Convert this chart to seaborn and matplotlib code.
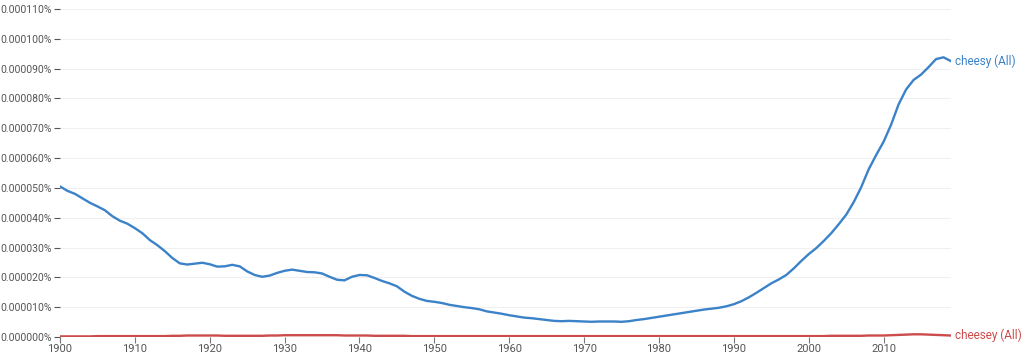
import numpy as np
import pandas as pd
import seaborn as sns
import matplotlib.pyplot as plt
from matplotlib.ticker import FuncFormatter

# values in units of 0.00001 %
years = list(range(1900, 2020))

cheesy = [
    5.05, 4.90, 4.80, 4.65, 4.50, 4.38, 4.25, 4.05, 3.90, 3.80,   # 1900s
    3.65, 3.48, 3.25, 3.08, 2.88, 2.65, 2.47, 2.43, 2.46, 2.49,   # 1910s
    2.44, 2.36, 2.37, 2.42, 2.37, 2.20, 2.08, 2.02, 2.06, 2.15,   # 1920s
    2.22, 2.26, 2.22, 2.18, 2.17, 2.13, 2.02, 1.92, 1.90, 2.02,   # 1930s
    2.08, 2.07, 1.98, 1.88, 1.80, 1.70, 1.52, 1.38, 1.28, 1.21,   # 1940s
    1.18, 1.14, 1.08, 1.04, 1.00, 0.97, 0.93, 0.86, 0.82, 0.78,   # 1950s
    0.73, 0.69, 0.65, 0.63, 0.60, 0.57, 0.54, 0.53, 0.54, 0.53,   # 1960s
    0.52, 0.51, 0.52, 0.52, 0.52, 0.51, 0.53, 0.57, 0.60, 0.64,   # 1970s
    0.68, 0.72, 0.76, 0.80, 0.84, 0.88, 0.92, 0.95, 0.98, 1.03,   # 1980s
    1.10, 1.20, 1.33, 1.48, 1.64, 1.80, 1.93, 2.08, 2.30, 2.55,   # 1990s
    2.78, 2.98, 3.22, 3.48, 3.78, 4.10, 4.52, 5.02, 5.62, 6.10,   # 2000s
    6.55, 7.12, 7.80, 8.30, 8.62, 8.80, 9.05, 9.32, 9.38, 9.25,   # 2010s
]

cheesey = [
    0.02, 0.02, 0.02, 0.02, 0.02, 0.03, 0.03, 0.03, 0.03, 0.03,
    0.03, 0.03, 0.03, 0.03, 0.03, 0.04, 0.04, 0.05, 0.05, 0.05,
    0.05, 0.05, 0.04, 0.04, 0.04, 0.04, 0.04, 0.04, 0.05, 0.05,
    0.06, 0.06, 0.06, 0.06, 0.06, 0.06, 0.06, 0.06, 0.05, 0.05,
    0.05, 0.05, 0.04, 0.04, 0.04, 0.04, 0.04, 0.03, 0.03, 0.03,
    0.03, 0.03, 0.03, 0.03, 0.03, 0.03, 0.03, 0.03, 0.03, 0.03,
    0.03, 0.03, 0.03, 0.03, 0.03, 0.03, 0.03, 0.03, 0.03, 0.03,
    0.03, 0.03, 0.03, 0.03, 0.03, 0.03, 0.03, 0.03, 0.03, 0.03,
    0.03, 0.03, 0.03, 0.03, 0.03, 0.03, 0.03, 0.03, 0.03, 0.03,
    0.03, 0.03, 0.03, 0.03, 0.03, 0.03, 0.03, 0.03, 0.03, 0.03,
    0.03, 0.03, 0.03, 0.04, 0.04, 0.04, 0.04, 0.04, 0.05, 0.05,
    0.05, 0.06, 0.07, 0.08, 0.09, 0.09, 0.08, 0.07, 0.06, 0.05,
]

labels = ['cheesy (All)', 'cheesey (All)']
colors = ['#3c82c8', '#cc4b4b']

df = pd.DataFrame({'year': years, labels[0]: cheesy, labels[1]: cheesey})
long = df.melt(id_vars='year', var_name='term', value_name='freq')

sns.set_style('white')
plt.rcParams['font.family'] = ['Roboto', 'DejaVu Sans']

fig = plt.figure(figsize=(10.24, 3.54), dpi=100)
ax = fig.add_axes([60 / 1024, 1 - 337 / 354, 891 / 1024, 328 / 354])

sns.lineplot(data=long, x='year', y='freq', hue='term', palette=colors,
             linewidth=1.7, legend=False, ax=ax)

ax.set_xlim(1900, 2019)
ax.set_ylim(0, 11)
ax.set_xticks(range(1900, 2020, 10))
ax.set_yticks(np.arange(0, 12, 1))
ax.yaxis.set_major_formatter(FuncFormatter(lambda v, p: f'{v * 1e-5:.6f}%'))
ax.grid(axis='y', color='#f0f0f0', linewidth=0.8)
ax.set_axisbelow(True)
for s in ax.spines.values():
    s.set_visible(False)
ax.tick_params(axis='y', length=4, width=0.8, color='#555555', pad=2,
               labelsize=7.5, labelcolor='#555555', left=True)
ax.tick_params(axis='x', length=4, width=0.8, color='#777777', pad=1,
               labelsize=8, labelcolor='#555555', bottom=True)
ax.set_xlabel('')
ax.set_ylabel('')

ax.annotate(labels[0], xy=(years[-1], cheesy[-1]), xytext=(3, 0),
            textcoords='offset points', va='center', ha='left',
            color=colors[0], fontsize=8.5, annotation_clip=False)
ax.annotate(labels[1], xy=(years[-1], cheesey[-1]), xytext=(3, 0),
            textcoords='offset points', va='center', ha='left',
            color=colors[1], fontsize=8.5, annotation_clip=False)

fig.savefig('out.png', dpi=100)
